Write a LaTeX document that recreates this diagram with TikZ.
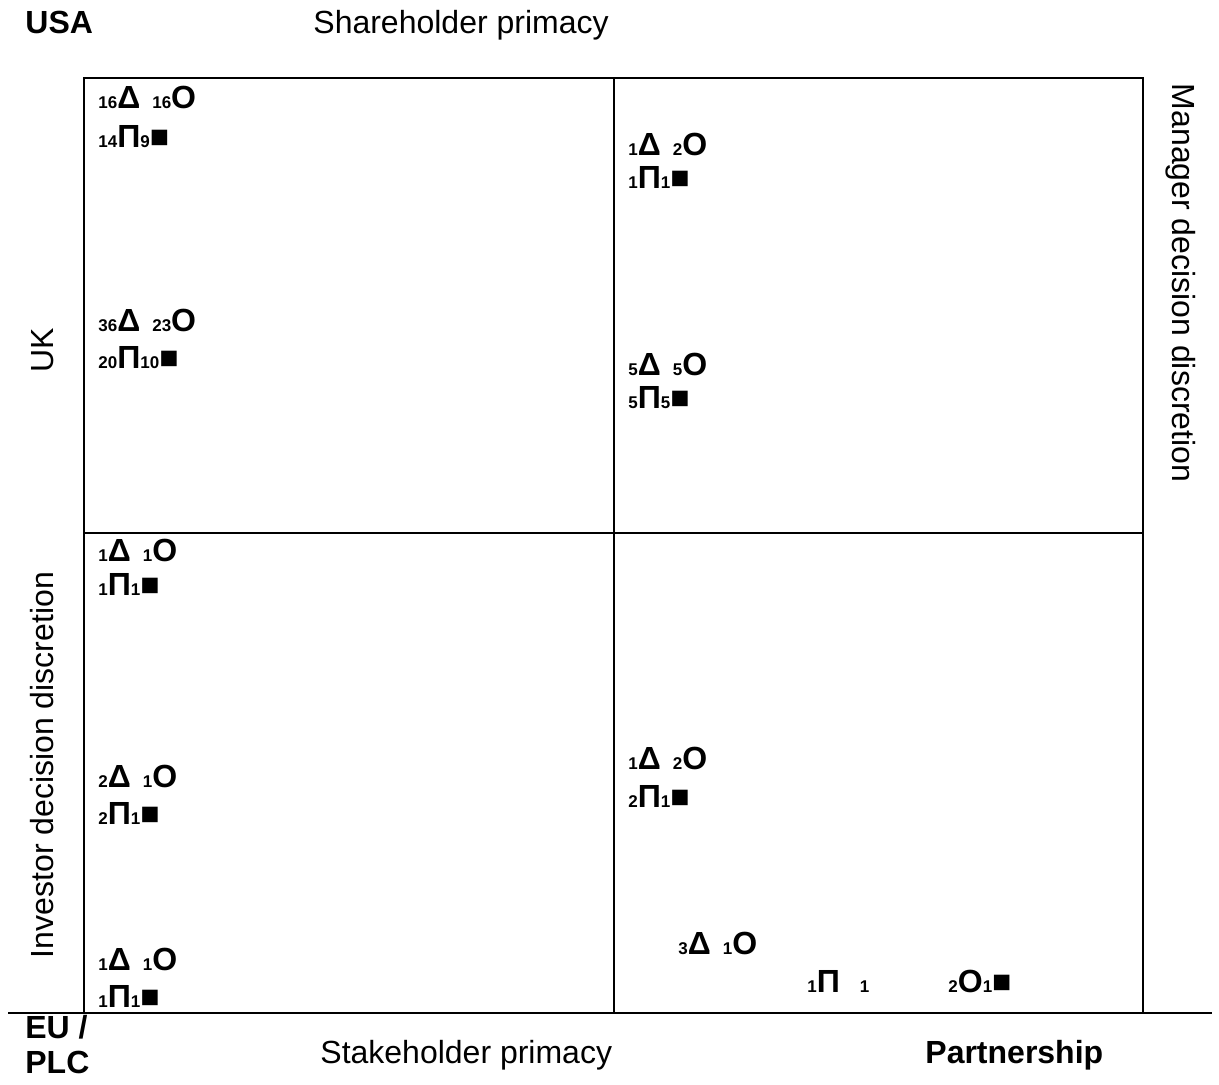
\documentclass[tikz,border=0pt]{standalone}
\usepackage{fontspec}
\setmainfont{Liberation Sans}
\usetikzlibrary{positioning}

% small count in front of a symbol, and the gap between two counts
\newcommand{\cnum}[1]{{\fontsize{8.5}{10}\selectfont #1}}
\newcommand{\tgap}{\hspace{6pt}}

\begin{document}
\begin{tikzpicture}[
  x=0.5pt, y=-0.5pt,
  grid/.style={draw=black, line width=1pt},
  axis/.style={inner sep=0pt, font=\fontsize{16}{19}\selectfont},
  corner/.style={axis, anchor=base west, font=\fontsize{16}{19}\selectfont\bfseries},
  tally/.style={anchor=base west, inner sep=0pt,
    font=\fontsize{16}{19}\selectfont\bfseries}
]
\useasboundingbox (0,0) rectangle (1219,1084);

% quadrant frame
\draw[grid] (84,78) rectangle (1143,1013);
\draw[grid] (614,78) -- (614,1013);
\draw[grid] (84,533) -- (1143,533);
\draw[grid] (8,1013) -- (1212,1013);

% axis labels
\node[corner] (usa) at (25,33) {USA};
\node[axis, anchor=base west] (share) at (313,33) {Shareholder primacy};
\node[axis, anchor=base, rotate=90] (uk) at (53,350) {UK};
\node[axis, anchor=base, rotate=90] (investor) at (53,765) {Investor decision discretion};
\node[axis, anchor=base, rotate=-90] (manager) at (1172,283) {Manager decision discretion};
\node[corner] (eu) at (25,1038) {EU /};
\node[corner] (plc) at (25,1073) {PLC};
\node[axis, anchor=base west] (stake) at (320,1063) {Stakeholder primacy};
\node[corner] (partner) at (925,1063) {Partnership};

% top left
\node[tally] (tla) at (98,108) {\cnum{16}Δ\tgap\cnum{16}O};
\node[tally] (tlb) at (98,147) {\cnum{14}Π\cnum{9}■};
\node[tally] (tlc) at (98,331) {\cnum{36}Δ\tgap\cnum{23}O};
\node[tally] (tld) at (98,368) {\cnum{20}Π\cnum{10}■};

% top right
\node[tally] (tra) at (628,155) {\cnum{1}Δ\tgap\cnum{2}O};
\node[tally] (trb) at (628,188) {\cnum{1}Π\cnum{1}■};
\node[tally] (trc) at (628,375) {\cnum{5}Δ\tgap\cnum{5}O};
\node[tally] (trd) at (628,408) {\cnum{5}Π\cnum{5}■};

% bottom left
\node[tally] (bla) at (98,561) {\cnum{1}Δ\tgap\cnum{1}O};
\node[tally] (blb) at (98,595) {\cnum{1}Π\cnum{1}■};
\node[tally] (blc) at (98,787) {\cnum{2}Δ\tgap\cnum{1}O};
\node[tally] (bld) at (98,824) {\cnum{2}Π\cnum{1}■};
\node[tally] (ble) at (98,970) {\cnum{1}Δ\tgap\cnum{1}O};
\node[tally] (blf) at (98,1007) {\cnum{1}Π\cnum{1}■};

% bottom right
\node[tally] (bra) at (628,769) {\cnum{1}Δ\tgap\cnum{2}O};
\node[tally] (brb) at (628,807) {\cnum{2}Π\cnum{1}■};
\node[tally] (brc) at (678,954) {\cnum{3}Δ\tgap\cnum{1}O};
\node[tally] (brd) at (807,992) {\cnum{1}Π\hspace{10pt}\cnum{1}};
\node[tally] (bre) at (948,992) {\cnum{2}O\cnum{1}■};
\end{tikzpicture}
\end{document}
